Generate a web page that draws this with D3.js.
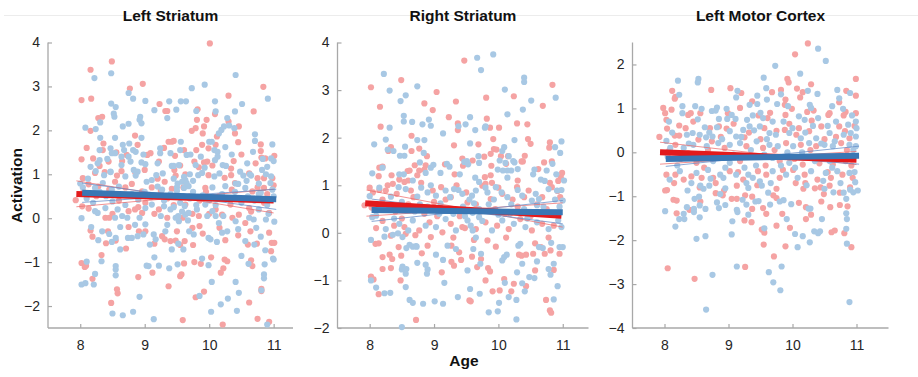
<!DOCTYPE html>
<html><head><meta charset="utf-8">
<script src="https://cdn.jsdelivr.net/npm/d3@7"></script>
<style>
html,body{margin:0;padding:0;background:#fff;}
svg{display:block;font-family:"Liberation Sans",Arial,Helvetica,sans-serif;}
</style></head>
<body><svg id="chart" width="918" height="377"></svg>
<script>
// ---------- DATA ----------
const panelTitles = ["Left Striatum", "Right Striatum", "Left Motor Cortex"];
const xTicks = [8, 9, 10, 11];
const yTicksLeftStriatum = [-2, -1, 0, 1, 2, 3, 4];
const yTicksRightStriatum = [-2, -1, 0, 1, 2, 3, 4];
const yTicksMotor = [-4, -3, -2, -1, 0, 1, 2];
const xDomains = [[7.5, 11.3], [7.5, 11.4], [7.5, 11.5]];
const yDomains = [[-2.5, 4], [-2, 4], [-4, 2.5]];

// [age, activation]
const leftStriatumRed = [[10.01,3.98],[8.49,3.57],[8.16,3.38],[8.97,3.06],[8.02,2.69],[8.17,2.72],[8.77,2.95],[10.84,2.99],[10.30,2.79],[9.23,2.60],[9.32,2.44],[9.35,2.44],[9.82,2.48],[10.09,2.37],[10.69,2.43],[8.28,2.28],[8.34,2.31],[9.81,2.24],[9.96,2.24],[10.30,2.20],[10.46,2.09],[9.92,2.09],[9.79,2.05],[9.73,1.99],[9.90,1.93],[8.16,1.99],[8.85,1.88],[10.12,1.86],[10.40,1.93],[8.89,1.67],[8.36,1.70],[8.35,1.55],[8.56,1.50],[9.42,1.74],[9.37,1.74],[9.45,1.76],[9.61,1.55],[9.80,1.55],[9.99,1.59],[10.10,1.67],[10.45,1.73],[9.89,1.67],[10.80,1.68],[10.80,1.53],[10.81,1.38],[10.87,1.36],[11.01,1.42],[8.02,1.34],[8.20,1.36],[8.30,1.19],[8.23,1.03],[8.44,1.29],[8.64,1.07],[8.54,0.83],[8.72,1.44],[9.04,1.44],[9.09,1.48],[9.22,1.29],[9.47,1.42],[9.46,1.10],[9.77,1.29],[9.84,1.16],[9.92,1.27],[9.97,1.29],[10.38,1.30],[10.34,1.13],[10.62,1.02],[10.75,0.91],[10.85,0.91],[10.98,0.91],[8.57,0.97],[9.31,0.83],[9.48,0.97],[9.63,1.00],[9.99,0.98],[10.24,0.92],[10.34,0.98],[8.04,0.91],[8.13,0.77],
[7.93,0.41],[8.28,0.72],[8.70,0.70],[9.11,0.70],[9.42,0.67],[9.94,0.69],[10.85,0.69],[8.96,0.61],[10.67,0.61],[8.03,0.27],[8.13,0.22],[8.39,0.01],[8.45,0.01],[8.85,0.20],[8.96,0.12],[8.75,0.16],[9.22,0.20],[9.35,0.01],[9.59,0.01],[9.74,0.10],[9.84,0.05],[10.20,0.08],[10.36,0.01],[10.46,0.08],[10.56,-0.11],[10.93,0.12],[10.62,0.23],[9.01,0.35],[9.63,0.31],[10.33,0.31],
[8.16,-0.28],[8.19,-0.42],[8.43,-0.30],[8.40,-0.57],[8.55,-0.51],[8.71,-0.69],[9.01,-0.30],[8.91,-0.30],[9.15,-0.58],[9.27,-0.41],[9.31,-0.48],[9.40,-0.52],[9.48,-0.51],[9.55,-0.61],[9.62,-0.52],[9.74,-0.22],[9.85,-0.18],[9.75,-0.61],[10.16,-0.22],[10.45,-0.39],[10.64,-0.30],[10.74,-0.58],[10.93,-0.33],[10.97,-0.56],[11.01,-0.56],[8.02,-1.02],[8.07,-1.11],[8.09,-1.08],[8.19,-1.38],[8.33,-0.84],[8.48,-1.93],[8.57,-1.62],[8.58,-1.71],[8.90,-1.34],[9.12,-1.24],[9.37,-1.55],[9.55,-1.32],[9.57,-1.28],[9.61,-1.03],[9.59,-2.32],[9.77,-1.00],[9.79,-1.80],[9.92,-1.67],[9.87,-1.04],[10.03,-0.89],[10.18,-1.24],[10.22,-1.14],[10.21,-2.42],[10.24,-0.94],[10.28,-0.98],[10.62,-1.92],[10.65,-0.96],[10.67,-1.09],[10.75,-2.29],[10.81,-1.66],[10.81,-1.61],[10.93,-2.36],[10.96,-0.75],
[8.05,0.6],[8.25,0.5],[8.45,0.65],[8.6,0.4],[8.8,0.78],[9.05,0.5],[9.25,0.62],[9.35,0.45],[9.6,0.7],[9.85,0.4],[9.95,0.6],[10.15,0.5],[10.35,0.65],[10.55,0.45],[10.75,0.7],[10.9,0.55],[9.45,0.3],[8.9,0.25],[10.1,0.2],[10.65,0.15],
[8.1,1.6],[8.38,1.05],[8.5,0.1],[8.65,1.3],[8.75,-0.2],[9.0,1.1],[9.15,0.1],[9.3,1.6],[9.5,-0.3],[9.55,1.2],[9.7,0.5],[9.9,-0.35],[10.05,1.2],[10.25,-0.5],[10.4,0.8],[10.5,1.45],[10.6,-0.6],[10.72,1.25],[10.85,0.35],[11.0,0.75],[8.85,1.05],[9.2,0.9],[10.0,0.1]];

const leftStriatumBlue = [[8.22,3.19],[8.48,3.30],[10.41,3.26],[8.75,2.85],[8.82,2.72],[9.73,2.96],[9.93,3.04],[10.91,2.72],[9.01,2.67],[8.48,2.61],[8.55,2.53],[9.38,2.66],[9.15,2.46],[9.49,2.47],[9.56,2.66],[9.64,2.66],[9.80,2.44],[10.09,2.66],[10.10,2.43],[10.51,2.60],[10.40,2.43],[8.52,2.38],[8.53,2.31],[8.31,2.18],[8.93,2.31],[8.92,2.24],[8.95,2.16],[9.35,2.28],[10.28,2.28],[10.31,2.11],[10.23,2.09],[10.19,2.01],[10.15,1.93],[10.39,2.05],[8.08,2.06],[8.24,2.03],[8.66,2.09],[8.75,2.15],[8.54,1.83],[8.95,1.83],[8.31,1.83],[10.71,1.91],[8.66,1.67],[8.30,1.55],[8.47,1.59],[8.49,1.48],[8.54,1.48],[8.68,1.55],[8.82,1.55],[8.86,1.51],[8.76,1.70],[9.56,1.74],[10.0,1.74],[10.04,1.74],[10.08,1.55],[10.13,1.51],[10.25,1.62],[10.71,1.76],[10.98,1.68],[10.68,1.51],[10.96,1.36],[11.0,1.30],[8.16,1.17],[8.27,1.25],[8.30,1.32],[8.24,1.07],[8.64,1.40],[8.64,1.21],[8.47,1.05],[8.75,1.40],[8.78,1.29],[8.83,1.10],[8.89,1.06],[8.95,1.27],[9.01,1.23],[9.24,1.59],[9.24,1.48],[9.40,1.48],[9.42,1.19],[9.45,1.19],[9.53,1.21],[9.65,1.44],[9.71,1.45],[9.79,1.21],[9.93,1.15],[10.13,1.40],[10.09,1.32],[10.21,1.21],[10.26,1.19],[10.48,1.06],[10.59,1.25],[10.65,0.97],[10.82,1.10],[10.90,1.17],[10.88,1.00],[8.47,1.06],[8.37,0.98],[8.86,0.97],[9.18,0.98],[9.28,1.02],[9.61,0.94],[9.70,1.00],[9.83,0.98],[9.89,1.03],[10.16,1.02],[10.53,0.97],[10.63,1.00],[9.03,0.83],[9.11,0.87],[9.51,0.79],[9.58,0.83],[9.63,0.87],[10.41,0.79],[10.77,0.79],[8.0,0.79],
[8.04,0.70],[9.50,0.70],[9.61,0.69],[9.68,0.73],[10.25,0.73],[10.56,0.69],[10.98,0.65],[8.23,0.69],[8.49,0.65],[9.27,0.65],[10.77,0.55],[8.23,0.16],[8.27,0.12],[8.39,0.23],[8.54,0.01],[8.65,0.05],[8.73,0.01],[8.92,0.01],[9.01,0.23],[9.30,0.27],[9.40,0.20],[9.48,0.01],[9.53,-0.07],[9.63,0.08],[9.81,0.20],[9.94,0.31],[10.05,0.16],[10.10,0.05],[10.15,-0.11],[10.41,-0.07],[10.62,0.01],[10.69,-0.03],[10.77,0.20],[10.88,-0.03],[11.01,-0.08],[9.11,0.31],[8.02,0.0],
[8.17,-0.20],[8.34,-0.30],[8.45,-0.36],[8.49,-0.54],[8.55,-0.45],[8.62,-0.71],[8.74,-0.45],[8.80,-0.45],[8.89,-0.41],[8.98,-0.37],[9.01,-0.14],[9.14,-0.37],[9.17,-0.48],[9.32,-0.30],[9.52,-0.58],[9.42,-0.71],[9.60,-0.71],[9.69,-0.30],[9.76,-0.37],[9.99,-0.45],[10.02,-0.48],[10.12,-0.54],[10.20,-0.33],[10.28,-0.30],[10.56,-0.52],[10.73,-0.22],[10.80,-0.42],[10.99,-0.92],[8.10,-0.99],[8.23,-1.27],[8.02,-1.51],[8.08,-1.48],[8.21,-1.51],[8.33,-0.98],[8.50,-2.17],[8.66,-2.21],[8.82,-2.13],[8.55,-1.09],[8.55,-1.17],[8.55,-1.30],[8.92,-1.79],[9.03,-1.08],[9.06,-1.09],[9.15,-0.89],[9.22,-1.08],[9.38,-1.14],[9.51,-1.05],[9.14,-2.30],[9.85,-1.77],[9.89,-0.92],[9.99,-1.07],[10.04,-1.45],[10.03,-2.13],[10.18,-1.96],[10.29,-1.83],[10.41,-1.45],[10.43,-2.11],[10.46,-1.70],[10.50,-0.86],[10.61,-1.04],[10.81,-1.64],[10.85,-1.28],[10.85,-1.37],[10.86,-1.05],[10.90,-2.42],[10.87,-0.73],[11.0,-0.94],
[8.1,0.45],[8.2,0.35],[8.3,0.6],[8.4,0.5],[8.5,0.38],[8.6,0.72],[8.7,0.3],[8.8,0.55],[8.9,0.42],[9.0,0.6],[9.1,0.48],[9.2,0.72],[9.3,0.4],[9.4,0.55],[9.5,0.62],[9.55,0.35],[9.6,0.5],[9.65,0.8],[9.7,0.45],[9.75,0.6],[9.8,0.3],[9.9,0.52],[10.0,0.4],[10.05,0.7],[10.1,0.3],[10.2,0.55],[10.3,0.45],[10.4,0.6],[10.5,0.35],[10.6,0.5],[10.7,0.4],[10.8,0.58],[10.9,0.3],[11.0,0.5],[9.45,0.25],[9.58,0.15],[9.62,0.28],[9.68,0.12],[9.52,0.05],[8.35,0.8],[10.95,0.8],[10.45,0.78],
[8.12,0.9],[8.28,-0.5],[8.42,1.35],[8.58,0.2],[8.7,0.95],[8.85,-0.15],[8.98,1.45],[9.08,-0.6],[9.2,1.25],[9.35,-0.15],[9.45,0.9],[9.55,1.55],[9.67,-0.05],[9.75,0.85],[9.87,1.4],[9.97,0.05],[10.08,0.95],[10.22,0.05],[10.35,1.45],[10.45,-0.25],[10.58,0.85],[10.7,-0.6],[10.83,1.35],[10.92,0.1],[10.96,0.95],[9.25,0.05],[8.62,-0.2]];

const rightStriatumRed = [[9.47,3.62],[8.49,3.21],[8.02,3.06],[9.04,2.96],[10.84,3.11],[10.24,2.87],[10.69,2.67],[9.81,2.84],[9.34,2.76],[8.85,2.72],[8.98,2.58],[8.16,2.65],[9.23,2.43],[9.82,2.40],[8.17,2.23],[9.37,2.30],[9.37,2.16],[9.87,2.21],[10.01,2.21],[10.29,2.30],[10.45,2.28],[8.65,2.04],[9.92,1.97],[10.46,1.97],[10.50,1.87],[10.80,1.90],[10.79,1.79],[9.31,1.84],[9.69,1.86],[9.93,1.76],[9.97,1.75],[8.33,1.80],[8.29,1.72],[8.77,1.77],[8.89,1.61],[8.65,1.72],[9.78,1.60],[9.88,1.66],[10.04,1.61],[10.15,1.61],[10.41,1.62],[9.44,1.56],[9.45,1.41],[9.60,1.52],[9.89,1.41],[10.12,1.45],[10.36,1.50],[10.38,1.50],[10.71,1.48],[10.83,1.50],[10.62,1.34],[9.32,1.23],[9.17,1.44],[8.87,1.42],[8.85,1.33],[8.77,1.31],[8.70,1.42],[8.15,1.37],[8.20,1.39],[8.14,1.19],[8.59,1.30],[8.62,1.31],[8.74,1.21],[8.34,1.21],[8.46,1.12],[8.54,1.07],[8.60,1.10],[8.36,1.03],[9.79,1.17],[9.88,1.21],[10.30,1.10],[10.99,1.26],[10.97,1.17],[10.93,1.09],[10.80,1.05],[9.90,1.05],[9.80,1.03],
[8.0,0.95],[8.05,0.85],[8.03,0.53],[8.15,0.90],[8.25,0.89],[8.42,0.82],[8.64,0.89],[8.98,0.89],[9.11,0.96],[9.26,0.75],[9.52,0.64],[9.75,0.99],[9.88,0.71],[10.06,0.82],[10.29,0.96],[10.47,0.89],[10.68,0.75],[10.83,0.96],[10.96,0.75],[7.92,0.58],
[8.20,0.25],[8.38,0.15],[8.54,0.12],[8.77,0.05],[8.93,0.22],[9.13,0.01],[9.26,0.19],[9.44,0.12],[9.65,0.08],[9.80,0.22],[9.98,0.15],[10.16,0.08],[10.34,0.29],[10.52,0.05],[10.68,0.19],[10.86,0.15],
[8.2,0.7],[8.4,0.45],[8.6,0.6],[8.85,0.4],[9.0,0.65],[9.2,0.5],[9.4,0.35],[9.65,0.6],[9.95,0.5],[10.1,0.4],[10.3,0.55],[10.5,0.35],[10.75,0.5],[10.9,0.42],
[8.09,-0.23],[8.14,-0.22],[8.33,-0.06],[8.56,-0.02],[8.71,-0.05],[8.49,-0.48],[8.45,-0.30],[8.35,-0.55],[8.20,-0.51],[8.31,-0.46],[8.20,-0.76],[8.33,-0.74],[8.02,-0.92],[8.06,-0.98],[8.14,-1.29],[8.48,-1.00],[8.72,-1.83],[8.81,-0.43],[8.90,-0.27],[8.95,-0.09],[9.12,-0.83],[9.27,-0.61],[9.31,-0.69],[9.27,-0.27],[9.39,-0.41],[9.42,-0.57],[9.55,-1.42],[9.57,-1.44],[9.59,-0.50],[9.73,-0.55],[9.67,-0.72],[9.80,-1.00],[9.84,-0.74],[9.87,-0.81],[9.91,-1.23],[10.02,-1.21],[10.09,-0.97],[9.96,-0.29],[9.83,-0.16],[10.20,-1.23],[10.24,-1.07],[10.32,-0.46],[10.36,-0.48],[10.43,-1.12],[10.43,-0.46],[10.54,-0.44],[10.57,-0.79],[10.66,-0.30],[10.72,-0.44],[10.81,-0.37],[10.74,-1.41],[10.80,-1.63],[10.82,-1.68],[10.86,-0.78],[10.95,-0.44],[10.57,-0.22],
[8.1,0.1],[8.28,1.0],[8.5,0.3],[8.68,0.75],[8.8,1.05],[9.05,0.35],[9.18,0.7],[9.35,1.0],[9.5,0.85],[9.62,-0.15],[9.72,0.45],[10.0,0.95],[10.12,-0.1],[10.22,0.7],[10.4,0.75],[10.6,0.6],[10.78,-0.1],[10.92,0.88],[9.48,0.1],[9.3,-0.1]];

const rightStriatumBlue = [[9.67,3.68],[9.92,3.75],[9.73,3.42],[8.22,3.34],[8.31,2.99],[8.74,3.08],[10.40,3.26],[10.40,3.17],[10.89,2.84],[10.10,3.01],[10.51,2.78],[8.48,2.77],[8.56,2.89],[10.38,2.59],[10.14,2.49],[9.56,2.43],[8.53,2.46],[8.53,2.34],[8.66,2.33],[8.92,2.38],[8.82,2.28],[8.95,2.25],[8.31,2.21],[9.38,2.24],[9.49,2.28],[9.64,2.16],[9.79,2.21],[9.80,2.24],[9.14,2.09],[8.25,1.96],[8.07,1.86],[8.74,1.95],[8.85,1.95],[10.25,1.95],[10.98,1.92],[10.88,1.80],[10.96,1.68],[9.56,1.88],[10.09,1.80],[10.06,1.72],[8.28,1.75],[8.37,1.72],[8.55,1.81],[8.84,1.68],[8.47,1.62],[8.54,1.62],[9.69,1.61],[10.16,1.61],[9.47,1.49],[9.51,1.51],[9.53,1.44],[9.70,1.47],[10.02,1.52],[10.11,1.47],[10.23,1.51],[10.25,1.48],[10.30,1.34],[10.84,1.45],[10.56,1.33],[10.75,1.31],[9.20,1.45],[9.24,1.39],[8.99,1.43],[8.95,1.37],[8.87,1.26],[8.78,1.48],[8.04,1.25],[8.20,1.37],[8.46,1.23],[8.53,1.23],[8.67,1.10],[9.10,1.26],[9.40,1.23],[9.64,1.16],[9.70,1.07],[9.99,1.33],[10.07,1.31],[10.14,1.31],[10.20,1.31],[10.14,1.16],[10.54,1.23],[10.66,1.12],[10.72,1.09],[11.02,1.10],[10.90,1.23],
[8.0,0.77],[8.33,0.76],[8.45,0.96],[8.56,0.92],[8.74,0.76],[8.80,0.95],[8.90,0.85],[9.03,0.78],[9.18,0.89],[9.31,0.92],[9.44,0.82],[9.59,0.78],[9.65,0.89],[9.83,0.85],[9.96,0.96],[10.14,0.75],[10.37,0.78],[10.58,0.82],[10.63,0.71],[10.78,0.92],[10.91,0.89],[11.0,0.68],
[8.04,0.33],[8.10,0.36],[8.25,0.08],[8.46,0.19],[8.67,0.26],[8.87,0.15],[9.03,0.12],[9.18,0.29],[9.34,0.05],[9.52,0.26],[9.57,0.15],[9.70,0.33],[9.90,0.05],[10.06,0.26],[10.24,0.19],[10.42,0.12],[10.60,0.22],[10.78,0.08],[10.93,0.26],[10.98,0.12],
[8.1,0.6],[8.3,0.5],[8.5,0.65],[8.7,0.45],[8.9,0.55],[9.1,0.62],[9.3,0.4],[9.45,0.55],[9.55,0.7],[9.7,0.5],[9.85,0.6],[10.0,0.38],[10.2,0.6],[10.4,0.5],[10.6,0.58],[10.8,0.4],[10.95,0.55],[9.6,0.42],[9.9,0.45],
[8.02,-0.15],[8.23,-0.08],[8.36,-0.04],[8.44,-0.01],[8.51,-0.09],[8.62,-0.25],[8.67,-0.29],[8.72,-0.28],[8.57,-0.32],[8.51,-0.71],[8.56,-0.86],[8.50,-0.77],[8.57,-0.76],[8.02,-1.00],[8.10,-1.15],[8.23,-1.27],[8.32,-1.26],[8.56,-1.14],[8.62,-1.41],[8.67,-1.47],[8.83,-1.49],[8.50,-1.98],[8.74,-0.63],[8.87,-0.67],[8.90,-0.77],[8.89,-0.86],[8.73,-0.29],[9.03,-0.46],[9.01,-1.44],[9.14,-1.49],[9.16,-1.05],[9.14,-0.57],[9.21,-0.27],[9.34,-0.34],[9.52,-0.79],[9.37,-1.35],[9.56,-1.18],[9.61,-0.34],[9.73,-0.44],[9.72,-0.65],[9.71,-1.28],[10.10,-1.05],[9.85,-1.67],[9.99,-1.65],[10.01,-1.47],[10.06,-0.58],[10.09,-0.51],[10.13,-0.46],[10.16,-1.35],[10.28,-1.41],[10.28,-1.82],[10.29,-0.83],[10.37,-1.06],[10.41,-1.23],[10.48,-0.93],[10.37,-0.65],[10.31,-0.27],[10.34,-0.23],[10.60,-0.60],[10.63,-0.30],[10.69,-0.32],[10.82,-0.21],[10.86,-1.40],[10.78,-0.76],[10.81,-0.88],[10.86,-0.65],[10.92,-1.12],[10.95,-0.30],[11.0,-0.30],[10.56,-0.95],
[8.15,0.95],[8.38,0.3],[8.6,0.05],[8.78,0.6],[8.95,1.0],[9.08,0.4],[9.25,0.75],[9.38,0.9],[9.48,0.35],[9.62,0.62],[9.75,0.25],[9.8,0.95],[9.93,0.7],[10.05,0.85],[10.18,0.4],[10.3,0.9],[10.45,0.3],[10.52,0.68],[10.7,0.55],[10.88,0.7],[10.98,0.9],[9.6,0.05],[9.65,-0.1]];

const motorRed = [[10.24,2.48],[10.04,2.23],[9.92,1.67],[9.94,1.59],[10.29,1.55],[10.99,1.67],[8.12,1.40],[8.17,1.26],[8.16,1.22],[8.73,1.42],[9.03,1.46],[9.20,1.35],[9.68,1.37],[9.82,1.42],[10.07,1.45],[10.16,1.37],[10.12,1.25],[10.84,1.40],[10.99,1.29],[10.73,1.14],[9.37,1.16],[9.89,1.20],[9.88,1.08],[9.99,0.99],[10.23,0.92],[10.58,0.89],[10.83,0.92],[10.80,0.84],[10.99,0.89],[7.98,1.01],[8.01,0.89],[8.11,0.97],[8.37,0.85],[8.41,0.89],[8.56,0.89],[8.99,0.89],[9.18,1.01],[9.47,0.84],[9.61,0.78],[9.89,0.85],[10.30,0.72],[10.56,0.85],[8.03,0.74],[8.23,0.61],[8.04,0.54],[7.92,0.35],[8.16,0.38],[8.23,0.38],[8.53,0.29],[8.71,0.55],[8.85,0.59],[8.97,0.54],[9.25,0.34],[9.56,0.55],[9.75,0.49],[9.88,0.51],[10.06,0.40],[10.26,0.48],[10.45,0.59],[10.73,0.59],[10.82,0.48],[10.89,0.32],
[8.17,0.17],[8.37,-0.02],[8.74,0.25],[8.94,0.10],[9.28,0.14],[9.54,0.10],[9.90,0.21],[10.13,0.17],[10.37,0.14],[10.76,0.21],
[8.03,-0.51],[8.17,-0.51],[8.30,-0.62],[8.42,-0.55],[8.58,-0.58],[8.76,-0.58],[9.02,-0.43],[9.23,-0.62],[9.46,-0.43],[9.59,-0.51],[9.80,-0.58],[10.01,-0.40],[10.19,-0.51],[10.39,-0.62],[10.60,-0.58],[10.78,-0.51],[10.94,-0.58],[9.80,-0.20],[10.16,-0.28],[9.18,-0.20],[8.50,-0.24],[10.63,-0.28],
[8.01,-0.87],[8.04,-0.86],[8.14,-1.08],[8.19,-1.10],[8.19,-1.39],[8.39,-1.31],[8.56,-1.12],[8.05,-2.64],[8.47,-2.88],[8.80,-0.93],[8.91,-0.98],[8.93,-0.87],[9.05,-1.06],[9.13,-1.06],[9.26,-2.61],[9.25,-1.55],[9.26,-0.98],[9.36,-1.59],[9.37,-1.29],[9.37,-1.01],[9.54,-1.27],[9.52,-1.76],[9.56,-1.83],[9.59,-1.40],[9.55,-2.10],[9.71,-2.37],[9.70,-0.98],[9.75,-1.67],[9.75,-1.04],[9.84,-1.40],[9.96,-1.72],[9.89,-2.14],[10.10,-1.15],[10.21,-1.52],[10.21,-1.25],[10.29,-1.42],[10.45,-1.12],[10.49,-0.95],[10.59,-1.25],[10.61,-1.82],[10.66,-1.78],[10.74,-1.20],[10.74,-0.92],[10.81,-1.84],[10.86,-1.23],[10.92,-2.16],[10.17,-0.83],[10.35,-0.82],[10.44,-0.80],[10.58,-0.76],[9.75,-0.83],[9.13,-0.76],
[8.08,0.05],[8.25,-0.15],[8.33,0.55],[8.45,0.7],[8.62,-0.35],[8.68,0.05],[8.8,-0.7],[8.88,0.35],[9.0,-0.1],[9.08,0.65],[9.15,-0.45],[9.32,0.45],[9.4,-0.1],[9.5,0.3],[9.58,-0.3],[9.65,0.9],[9.72,0.05],[9.85,-0.4],[9.95,0.65],[10.03,-0.15],[10.1,0.55],[10.2,-0.7],[10.28,0.05],[10.33,0.95],[10.42,-0.25],[10.5,0.3],[10.55,-0.45],[10.68,0.35],[10.7,-0.1],[10.85,0.05],[10.92,-0.3],[10.97,0.6],[8.15,-0.7],[8.55,-0.8],[9.45,-0.75],[10.05,-0.7],[10.9,-0.8]];

const motorBlue = [[10.40,2.36],[10.52,2.08],[9.73,1.97],[10.12,1.79],[9.55,1.70],[8.53,1.67],[8.52,1.59],[8.21,1.63],[8.23,1.31],[9.14,1.40],[9.12,1.25],[9.45,1.29],[9.59,1.46],[9.82,1.32],[10.24,1.40],[10.39,1.33],[10.70,1.42],[10.90,1.35],[10.73,1.23],[9.60,1.20],[9.45,1.10],[9.33,1.08],[9.76,1.10],[9.93,1.05],[10.27,1.08],[10.29,1.01],[10.79,0.99],[10.93,0.84],[8.28,1.05],[8.28,0.89],[8.48,1.05],[8.58,0.99],[8.74,0.94],[8.82,1.02],[8.97,0.99],[8.85,0.76],[8.98,0.76],[9.11,0.76],[9.29,0.74],[9.38,0.84],[9.54,0.78],[9.69,0.70],[10.10,0.82],[10.19,0.74],[10.40,0.78],[10.68,0.70],[10.87,0.63],[10.99,0.70],[8.07,0.70],[8.03,0.26],[8.35,0.40],[8.44,0.44],[8.55,0.40],[8.63,0.57],[8.65,0.34],[8.75,0.36],[8.82,0.57],[9.02,0.48],[9.12,0.36],[9.23,0.51],[9.33,0.59],[9.49,0.59],[9.64,0.44],[9.95,0.44],[10.13,0.32],[10.37,0.32],[10.58,0.44],[10.91,0.44],[10.99,0.36],
[8.09,0.10],[8.30,0.10],[8.45,0.17],[8.66,0.14],[8.84,0.21],[9.02,0.17],[9.18,0.21],[9.44,0.25],[9.64,0.17],[9.77,0.14],[10.01,0.14],[10.26,0.21],[10.50,0.17],[10.63,0.14],[10.89,0.17],[10.99,0.14],
[8.08,-0.62],[8.24,-0.43],[8.50,-0.47],[8.68,-0.40],[8.87,-0.51],[8.92,-0.58],[9.12,-0.51],[9.31,-0.51],[9.38,-0.58],[9.49,-0.66],[9.69,-0.43],[9.90,-0.51],[10.08,-0.58],[10.29,-0.43],[10.52,-0.47],[10.70,-0.43],[10.89,-0.47],[10.98,-0.68],[9.69,-0.13],[9.95,-0.24],[9.02,-0.24],[8.76,-0.20],[10.58,-0.20],
[8.01,-1.34],[8.17,-1.69],[8.23,-1.52],[8.30,-1.40],[8.31,-1.52],[8.35,-1.25],[8.36,-0.87],[8.46,-1.29],[8.46,-1.36],[8.47,-1.06],[8.54,-1.01],[8.55,-1.21],[8.55,-1.48],[8.50,-1.97],[8.64,-1.29],[8.64,-1.91],[8.65,-3.58],[8.75,-2.79],[8.61,-0.83],[8.56,-0.76],[8.70,-0.76],[8.82,-1.14],[8.85,-1.27],[8.87,-0.95],[8.95,-0.82],[8.95,-1.20],[9.06,-1.57],[9.05,-1.87],[9.13,-1.31],[9.14,-1.36],[9.13,-2.60],[9.22,-1.08],[9.28,-1.19],[9.31,-0.81],[9.31,-1.42],[9.42,-1.12],[9.47,-1.11],[9.56,-1.73],[9.62,-0.92],[9.63,-2.73],[9.70,-2.96],[9.65,-1.19],[9.80,-1.12],[9.86,-1.09],[9.91,-1.52],[9.98,-1.18],[9.83,-2.60],[9.81,-3.14],[10.04,-1.86],[10.08,-2.16],[10.16,-1.91],[10.25,-1.28],[10.28,-1.28],[10.27,-2.05],[10.34,-1.80],[10.40,-1.84],[10.43,-1.80],[10.46,-1.52],[10.50,-0.83],[10.64,-0.91],[10.80,-0.92],[10.84,-1.06],[10.84,-1.39],[10.85,-1.52],[10.84,-1.74],[10.85,-2.08],[10.89,-3.41],[10.90,-0.85],[10.95,-0.91],[11.02,-0.87],[9.52,-0.76],
[8.05,-0.1],[8.12,0.45],[8.2,-0.3],[8.38,0.2],[8.42,-0.7],[8.52,0.75],[8.6,-0.1],[8.7,0.45],[8.72,-0.6],[8.9,0.3],[8.95,-0.35],[9.05,0.85],[9.08,-0.05],[9.2,0.35],[9.25,-0.35],[9.35,0.05],[9.4,0.5],[9.43,-0.3],[9.5,0.9],[9.56,-0.05],[9.6,0.3],[9.66,-0.7],[9.74,0.4],[9.82,-0.3],[9.86,0.7],[9.92,0.0],[10.0,0.55],[10.04,-0.35],[10.15,0.0],[10.2,0.45],[10.22,-0.75],[10.32,0.6],[10.35,-0.2],[10.45,0.2],[10.48,-0.65],[10.55,0.6],[10.62,-0.35],[10.66,0.25],[10.75,-0.7],[10.8,0.4],[10.83,-0.2],[10.95,0.05],[11.0,0.55],[10.97,-0.45],[9.28,-0.7],[8.8,0.95],[10.62,1.05]];

// regression fits and bounds: [[ageStart, value], [ageEnd, value]]
const leftStriatumRedFit = [[7.94,0.55],[11.0,0.40]];
const leftStriatumBlueFit = [[8.03,0.58],[11.04,0.43]];
const leftStriatumRedBounds = [[[7.94,0.85],[11.0,0.12]], [[7.94,0.26],[11.0,0.66]]];
const leftStriatumBlueBounds = [[[8.03,0.80],[11.04,0.20]], [[8.03,0.36],[11.04,0.66]]];
const rightStriatumRedFit = [[7.93,0.62],[10.98,0.36]];
const rightStriatumBlueFit = [[8.03,0.48],[11.0,0.43]];
const rightStriatumRedBounds = [[[7.95,0.90],[11.0,0.12]], [[7.95,0.35],[11.0,0.63]]];
const rightStriatumBlueBounds = [[[8.03,0.71],[11.0,0.19]], [[8.03,0.24],[11.0,0.68]]];
const motorRedFit = [[7.93,0.0],[11.0,-0.17]];
const motorBlueFit = [[8.02,-0.15],[11.04,-0.08]];
const motorRedBounds = [[[7.93,0.23],[11.0,-0.28]], [[7.93,-0.27],[11.0,0.02]]];
const motorBlueBounds = [[[8.02,0.05],[11.04,-0.27]], [[8.02,-0.32],[11.04,0.14]]];

// ---------- LAYOUT ----------
const panels = [
  {title: panelTitles[0], x0: 48, x1: 293, xd: xDomains[0], yd: yDomains[0], yt: yTicksLeftStriatum,
   red: leftStriatumRed, blue: leftStriatumBlue, redFit: leftStriatumRedFit, blueFit: leftStriatumBlueFit,
   redB: leftStriatumRedBounds, blueB: leftStriatumBlueBounds},
  {title: panelTitles[1], x0: 337.5, x1: 588.5, xd: xDomains[1], yd: yDomains[1], yt: yTicksRightStriatum,
   red: rightStriatumRed, blue: rightStriatumBlue, redFit: rightStriatumRedFit, blueFit: rightStriatumBlueFit,
   redB: rightStriatumRedBounds, blueB: rightStriatumBlueBounds},
  {title: panelTitles[2], x0: 632.5, x1: 888.5, xd: xDomains[2], yd: yDomains[2], yt: yTicksMotor,
   red: motorRed, blue: motorBlue, redFit: motorRedFit, blueFit: motorBlueFit,
   redB: motorRedBounds, blueB: motorBlueBounds}
];
const yTop = 42.5, yBot = 328;
const COL = {redDot: "#f5a3a3", blueDot: "#a8c8e4", red: "#e31a1c", blue: "#3a77b4",
             redThin: "rgba(238,110,110,0.75)", blueThin: "rgba(100,140,200,0.75)", axis: "#a8a8a8", text: "#262626"};

const svg = d3.select("#chart");
svg.append("line").attr("x1", 4).attr("x2", 918).attr("y1", 15.5).attr("y2", 15.5)
   .attr("stroke", "#ececec").attr("stroke-width", 1);

panels.forEach(p => {
  const x = d3.scaleLinear().domain(p.xd).range([p.x0, p.x1]);
  const y = d3.scaleLinear().domain(p.yd).range([yBot, yTop]);
  const g = svg.append("g");

  const ya = g.append("g").attr("transform", `translate(${p.x0},0)`)
    .call(d3.axisLeft(y).tickValues(p.yt).tickSize(-4).tickPadding(8).tickFormat(d3.format("d")));
  const xa = g.append("g").attr("transform", `translate(0,${yBot})`)
    .call(d3.axisBottom(x).tickValues(xTicks).tickSize(-4).tickPadding(12).tickFormat(d3.format("d")));
  [ya, xa].forEach(a => {
    a.select(".domain").attr("stroke", COL.axis).attr("stroke-width", 1.3);
    a.selectAll(".tick line").attr("stroke", COL.axis).attr("stroke-width", 1.2);
    a.selectAll(".tick text").attr("fill", COL.text).style("font-size", "14px")
      .style("font-family", '"Liberation Sans",Arial,sans-serif');
  });
  ya.select(".domain").attr("d", `M0,${yBot}V${yTop}`);
  xa.select(".domain").attr("d", `M${p.x0},0H${p.x1}`);

  g.append("g").selectAll("circle").data(p.red).join("circle")
    .attr("cx", d => x(d[0])).attr("cy", d => y(d[1])).attr("r", 3.1).attr("fill", COL.redDot);
  g.append("g").selectAll("circle").data(p.blue).join("circle")
    .attr("cx", d => x(d[0])).attr("cy", d => y(d[1])).attr("r", 3.1).attr("fill", COL.blueDot);

  const line = d3.line().x(d => x(d[0])).y(d => y(d[1]));
  p.redB.forEach(b => g.append("path").attr("d", line(b)).attr("fill", "none")
    .attr("stroke", COL.redThin).attr("stroke-width", 1));
  p.blueB.forEach(b => g.append("path").attr("d", line(b)).attr("fill", "none")
    .attr("stroke", COL.blueThin).attr("stroke-width", 1));
  g.append("path").attr("d", line(p.redFit)).attr("fill", "none")
    .attr("stroke", COL.red).attr("stroke-width", 6);
  g.append("path").attr("d", line(p.blueFit)).attr("fill", "none")
    .attr("stroke", COL.blue).attr("stroke-width", 6);

  svg.append("text").attr("x", (p.x0 + p.x1) / 2).attr("y", 20.5).attr("text-anchor", "middle")
    .attr("fill", "#111").style("font-size", "15.5px").style("font-weight", "bold").text(p.title);
});

svg.append("text").attr("transform", "translate(22,185.5) rotate(-90)").attr("text-anchor", "middle")
  .attr("fill", "#111").style("font-size", "15.5px").style("font-weight", "bold").text("Activation");
svg.append("text").attr("x", 464).attr("y", 366).attr("text-anchor", "middle")
  .attr("fill", "#111").style("font-size", "15.5px").style("font-weight", "bold").text("Age");
</script></body></html>
